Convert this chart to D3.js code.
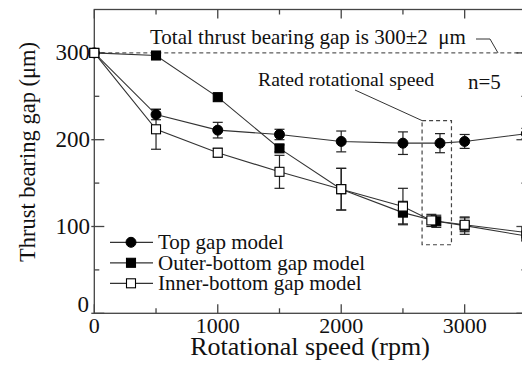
<!DOCTYPE html>
<html>
<head>
<meta charset="utf-8">
<script src="https://cdn.jsdelivr.net/npm/d3@7"></script>
<style>
  body { margin: 0; background: white; }
</style>
</head>
<body>
<div class="svg-container"></div>
<script>
/*** Data ***/

let speedTop = [0, 500, 1000, 1500, 2000, 2500, 2800, 3000, 3500]
let gapTop = [300, 229, 211, 206, 198, 196, 196, 198, 207]
let errTop = [0, 6, 9, 6, 12, 13, 11, 8, 6]

let speedOuter = [0, 500, 1000, 1500, 2000, 2500, 2770, 3000, 3500]
let gapOuter = [300, 297, 249, 190, 143, 116, 106, 101, 89]
let errOuter = [0, 2, 2, 4, 24, 13, 7, 10, 6]

let speedInner = [0, 500, 1000, 1500, 2000, 2500, 2730, 3000, 3500]
let gapInner = [300, 212, 185, 163, 143, 123, 107, 102, 93]
let errInner = [0, 23, 5, 19, 24, 21, 7, 8, 6]

let xTicks = [0, 1000, 2000, 3000]
let xMinor = [500, 1500, 2500, 3500]
let yTicks = [0, 100, 200, 300]
let yMinor = [50, 150, 250]

let seriesNames = ["Top gap model", "Outer-bottom gap model", "Inner-bottom gap model"]
let totalGap = 300

const svgWidth = 522
const svgHeight = 372

const plotLeft = 94.3
const plotRight = 526.4
const plotTop = 9.5
const plotBottom = 313.3

let svg = d3.select(".svg-container")
    .append("svg")
    .attr("width", svgWidth)
    .attr("height", svgHeight)
    .attr("font-family", "'Liberation Serif', 'DejaVu Serif', serif")
    .attr("fill", "#111")
    .style("display", "block")

/* Scales */

let xScale = d3.scaleLinear()
    .domain([0, 3500])
    .range([plotLeft, plotRight])

let yScale = d3.scaleLinear()
    .domain([0, 350])
    .range([plotBottom, plotTop])

/* Frame and ticks */

let frame = svg.append("g")
    .attr("stroke", "#444")
    .attr("stroke-width", 1.3)

frame.append("rect")
    .attr("x", plotLeft)
    .attr("y", plotTop)
    .attr("width", plotRight - plotLeft)
    .attr("height", plotBottom - plotTop)
    .attr("fill", "none")

xTicks.forEach(v => {
    frame.append("line").attr("x1", xScale(v)).attr("x2", xScale(v))
        .attr("y1", plotBottom).attr("y2", plotBottom - 9)
    frame.append("line").attr("x1", xScale(v)).attr("x2", xScale(v))
        .attr("y1", plotTop).attr("y2", plotTop + 9)
})
xMinor.forEach(v => {
    frame.append("line").attr("x1", xScale(v)).attr("x2", xScale(v))
        .attr("y1", plotBottom).attr("y2", plotBottom - 5)
    frame.append("line").attr("x1", xScale(v)).attr("x2", xScale(v))
        .attr("y1", plotTop).attr("y2", plotTop + 5)
})
yTicks.forEach(v => {
    frame.append("line").attr("x1", plotLeft - 3).attr("x2", plotLeft + 10)
        .attr("y1", yScale(v)).attr("y2", yScale(v))
    frame.append("line").attr("x1", plotRight).attr("x2", plotRight - 10)
        .attr("y1", yScale(v)).attr("y2", yScale(v))
})
yMinor.forEach(v => {
    frame.append("line").attr("x1", plotLeft).attr("x2", plotLeft + 5)
        .attr("y1", yScale(v)).attr("y2", yScale(v))
    frame.append("line").attr("x1", plotRight).attr("x2", plotRight - 5)
        .attr("y1", yScale(v)).attr("y2", yScale(v))
})

/* Tick labels */

svg.append("g").selectAll("text")
    .data(xTicks)
    .enter()
    .append("text")
    .attr("x", d => xScale(d))
    .attr("y", 333)
    .attr("text-anchor", "middle")
    .style("font-size", "22px")
    .text(d => d)

svg.append("g").selectAll("text")
    .data(yTicks)
    .enter()
    .append("text")
    .attr("x", d => d == 0 ? 89 : 90)
    .attr("y", d => d == 0 ? 312 : yScale(d) + 7)
    .attr("text-anchor", "end")
    .style("font-size", "23px")
    .text(d => d)

/* Axis titles */

svg.append("text")
    .attr("x", 310)
    .attr("y", 355)
    .attr("text-anchor", "middle")
    .style("font-size", "26px")
    .text("Rotational speed (rpm)")

svg.append("text")
    .attr("transform", "translate(35, 152) rotate(-90)")
    .attr("text-anchor", "middle")
    .style("font-size", "22.5px")
    .text("Thrust bearing gap (\u03bcm)")

/* Total gap reference line */

svg.append("line")
    .attr("x1", xScale(0))
    .attr("x2", plotRight)
    .attr("y1", yScale(totalGap))
    .attr("y2", yScale(totalGap))
    .attr("stroke", "#333")
    .attr("stroke-width", 1)
    .attr("stroke-dasharray", "4,3")

svg.append("text")
    .attr("x", 150)
    .attr("y", 44.3)
    .style("font-size", "21px")
    .style("white-space", "pre")
    .text("Total thrust bearing gap is 300\u00b12  \u03bcm")

svg.append("path")
    .attr("d", `M476,39 L490,39 L498,${yScale(totalGap)}`)
    .attr("fill", "none")
    .attr("stroke", "#333")
    .attr("stroke-width", 1)

/* Rated speed box */

svg.append("rect")
    .attr("x", xScale(2655))
    .attr("y", yScale(222))
    .attr("width", xScale(2893) - xScale(2655))
    .attr("height", yScale(79) - yScale(222))
    .attr("fill", "none")
    .attr("stroke", "#444")
    .attr("stroke-width", 1.2)
    .attr("stroke-dasharray", "4,3")

svg.append("line")
    .attr("x1", 355)
    .attr("y1", 90)
    .attr("x2", xScale(2655))
    .attr("y2", yScale(222))
    .attr("stroke", "#333")

svg.append("text")
    .attr("x", 258)
    .attr("y", 86)
    .style("font-size", "19.7px")
    .text("Rated rotational speed")

svg.append("text")
    .attr("x", 468)
    .attr("y", 89)
    .style("font-size", "21px")
    .text("n=5")

/* Series */

let plot = svg.append("g")

let series = [
    {xs: speedTop, ys: gapTop, es: errTop, shape: "circle", fill: "#000"},
    {xs: speedOuter, ys: gapOuter, es: errOuter, shape: "square", fill: "#000"},
    {xs: speedInner, ys: gapInner, es: errInner, shape: "square", fill: "#fff"}
]

let line = d3.line()
    .x(d => xScale(d[0]))
    .y(d => yScale(d[1]))

series.forEach(s => {
    let pts = s.xs.map((x, i) => [x, s.ys[i], s.es[i]])
    plot.append("path")
        .datum(pts)
        .attr("d", line)
        .attr("fill", "none")
        .attr("stroke", "#333")
        .attr("stroke-width", 1.1)
})

series.forEach(s => {
    let pts = s.xs.map((x, i) => [x, s.ys[i], s.es[i]])
    let g = plot.append("g")
        .attr("stroke", "#222")
        .attr("stroke-width", 1.2)
    pts.filter(d => d[2] > 2).forEach(d => {
        let cx = xScale(d[0])
        let y1 = yScale(d[1] - d[2])
        let y2 = yScale(d[1] + d[2])
        g.append("line").attr("x1", cx).attr("x2", cx).attr("y1", y1).attr("y2", y2)
        g.append("line").attr("x1", cx - 5).attr("x2", cx + 5).attr("y1", y1).attr("y2", y1)
        g.append("line").attr("x1", cx - 5).attr("x2", cx + 5).attr("y1", y2).attr("y2", y2)
    })
})

function drawMarker(g, shape, fill, cx, cy) {
    if (shape == "circle") {
        g.append("circle")
            .attr("cx", cx).attr("cy", cy).attr("r", 5)
            .attr("fill", fill).attr("stroke", "#000")
    } else {
        g.append("rect")
            .attr("x", cx - 4.5).attr("y", cy - 4.5)
            .attr("width", 9).attr("height", 9)
            .attr("fill", fill).attr("stroke", "#000").attr("stroke-width", 1.1)
    }
}

series.forEach(s => {
    s.xs.forEach((x, i) => drawMarker(plot, s.shape, s.fill, xScale(x), yScale(s.ys[i])))
})

/* Legend */

let legend = svg.append("g")

series.forEach((s, i) => {
    let ly = 242.3 + i * 20.5
    legend.append("line")
        .attr("x1", 110).attr("x2", 153)
        .attr("y1", ly).attr("y2", ly)
        .attr("stroke", "#333").attr("stroke-width", 1.2)
    drawMarker(legend, s.shape, s.fill, 131, ly)
    legend.append("text")
        .attr("x", 158)
        .attr("y", ly + 7)
        .style("font-size", "21px")
        .text(seriesNames[i])
})
</script>
</body>
</html>
